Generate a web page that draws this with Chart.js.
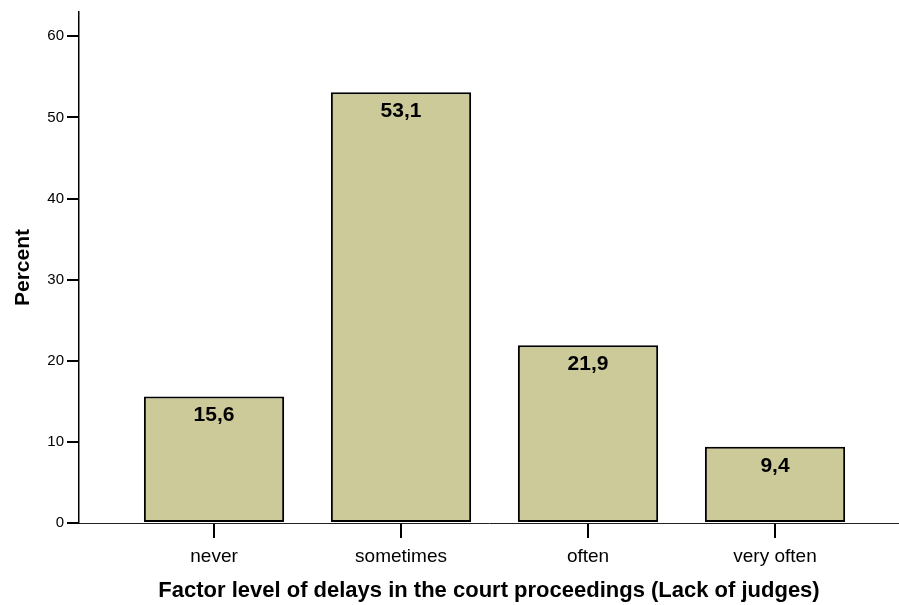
<!DOCTYPE html>
<html lang="en">
<head>
  <meta charset="UTF-8">
  <title>Lack of judges</title>
  <script src="https://cdn.jsdelivr.net/npm/chart.js@4.4.0/dist/chart.umd.min.js"></script>
  <style>
    body { margin: 0; background: #fff; }
  </style>
</head>
<body>
  <canvas id="myChart" width="899" height="605"></canvas>
  <script>
    const categories = ['never', 'sometimes', 'often', 'very often'];
    const percents = [15.6, 53.1, 21.9, 9.4];
    const yTicks = [0, 10, 20, 30, 40, 50, 60];

    const font = 'Liberation Sans, Arial, sans-serif';

    // draws the value labels inside the top of each bar
    const barLabels = {
      id: 'barLabels',
      afterDatasetsDraw(chart) {
        const ctx = chart.ctx;
        const meta = chart.getDatasetMeta(0);
        ctx.save();
        ctx.font = 'bold 21px ' + font;
        ctx.fillStyle = '#000';
        ctx.textAlign = 'center';
        ctx.textBaseline = 'middle';
        meta.data.forEach((bar, i) => {
          ctx.fillText(percents[i].toFixed(1).replace('.', ','), bar.x, bar.y + 19);
        });
        ctx.restore();
      }
    };

    const data = {
      datasets: [{
        data: percents.map((v, i) => ({ x: i + 1, y: v })),
        backgroundColor: '#cdca99',
        borderColor: '#000',
        borderWidth: 2,
        borderSkipped: false,
        barPercentage: 0.75,
        categoryPercentage: 1
      }]
    };

    const config = {
      type: 'bar',
      data,
      options: {
        responsive: false,
        animation: false,
        layout: { padding: { top: 8, right: 0, left: 0, bottom: 0 } },
        plugins: {
          legend: { display: false },
          tooltip: { enabled: false }
        },
        scales: {
          x: {
            type: 'linear',
            min: 0.278,
            max: 4.663,
            offset: false,
            afterBuildTicks: (scale) => { scale.ticks = categories.map((c, i) => ({ value: i + 1 })); },
            afterFit: (scale) => { scale.height = 82; },
            ticks: {
              callback: (v) => categories[v - 1] || '',
              color: '#000',
              font: { family: font, size: 19 },
              padding: 7,
              maxRotation: 0,
              autoSkip: false
            },
            grid: { display: true, offset: false, drawOnChartArea: false, drawTicks: true, tickLength: 15, color: '#000', lineWidth: 2 },
            border: { display: true, color: '#222', width: 1 },
            title: {
              display: true,
              text: 'Factor level of delays in the court proceedings (Lack of judges)',
              color: '#000',
              font: { family: font, size: 22, weight: 'bold' },
              padding: { top: 0, bottom: 1 }
            }
          },
          y: {
            min: 0,
            max: 63,
            afterBuildTicks: (scale) => { scale.ticks = yTicks.map(v => ({ value: v })); },
            afterFit: (scale) => { scale.width = 79; },
            ticks: {
              color: '#000',
              font: { family: font, size: 15 },
              padding: 3
            },
            grid: { display: true, drawOnChartArea: false, drawTicks: true, tickLength: 12, color: '#000', lineWidth: 2 },
            border: { display: true, color: '#000', width: 1.5 },
            title: {
              display: true,
              text: 'Percent',
              color: '#000',
              font: { family: font, size: 21, weight: 'bold' },
              padding: { top: 11, bottom: 0 }
            }
          }
        }
      },
      plugins: [barLabels]
    };

    new Chart(document.getElementById('myChart'), config);
  </script>
</body>
</html>
